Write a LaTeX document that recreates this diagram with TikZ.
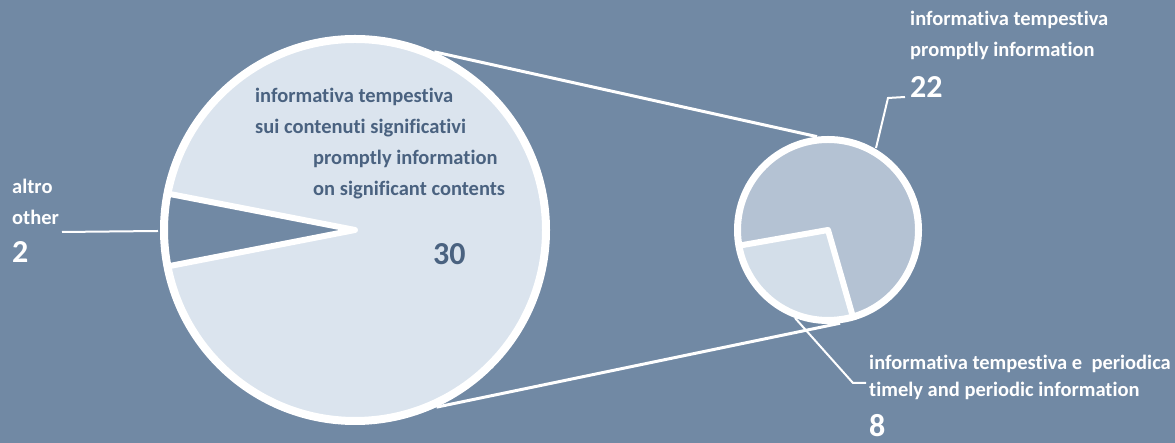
\documentclass[tikz,border=0pt]{standalone}
\usepackage{fontspec}
\setmainfont[Ligatures={NoCommon,NoRare,NoContextual}]{Carlito}
\definecolor{bg}{RGB}{113,137,164}
\definecolor{bigfill}{RGB}{219,228,238}
\definecolor{smallA}{RGB}{180,194,211}
\definecolor{smallB}{RGB}{211,222,233}
\definecolor{txtdark}{RGB}{74,98,128}
\begin{document}
\begin{tikzpicture}[x=1pt,y=1pt,
  lbl/.style={inner sep=0pt, anchor=base west, align=left, font=\bfseries\fontsize{20.5}{31}\selectfont},
  lblb/.style={lbl, font=\bfseries\fontsize{20.5}{27}\selectfont},
  num/.style={inner sep=0pt, anchor=base west, font=\bfseries\fontsize{32}{32}\selectfont},
  ring/.style={draw=white, line width=8pt},
  sep/.style={draw=white, line width=6pt, line join=round},
  link/.style={draw=white, line width=3pt},
  leader/.style={draw=white, line width=2pt}]
\useasboundingbox[fill=bg] (0,0) rectangle (1175,443);
\coordinate (C1) at (355,213);
\coordinate (C2) at (828,213);
% tangent points
\path (C1) ++(66:195) coordinate (t1);
\path (C2) ++(96.7:94) coordinate (t2);
\path (C1) ++(-65.3:195) coordinate (b1);
\path (C2) ++(-82.6:94) coordinate (b2);
\draw[link] (t1) -- (t2);
\draw[link] (b1) -- (b2);
% big pie
\fill[bigfill] (C1) circle (191);
\path (C1) ++(169:191) coordinate (w1);
\path (C1) ++(191:191) coordinate (w2);
\fill[bg] (C1) -- (w1) arc (169:191:191) -- cycle;
\draw[sep] (w1) -- (C1) -- (w2);
\draw[ring] (C1) circle (191);
% small pie
\path (C2) ++(190:90.5) coordinate (s1);
\path (C2) ++(286:90.5) coordinate (s2);
\fill[smallA] (C2) -- (s2) arc (286:550:90.5) -- cycle;
\fill[smallB] (C2) -- (s1) arc (190:286:90.5) -- cycle;
\draw[sep] (s1) -- (C2) -- (s2);
\draw[draw=white, line width=7pt] (C2) circle (90.5);
% leaders
\coordinate (a1) at (62,211);
\coordinate (a2) at (158,212);
\draw[leader] (a1) -- (a2);
\coordinate (p1) at (876,295);
\coordinate (p2) at (888,345);
\coordinate (p3) at (905,346);
\draw[leader] (p1) -- (p2) -- (p3);
\coordinate (q1) at (795,125);
\coordinate (q2) at (853,60);
\coordinate (q3) at (866,60);
\draw[leader] (q1) -- (q2) -- (q3);
% texts
\node[lbl, text=txtdark] (in1) at (255,309) {informativa tempestiva\\sui contenuti significativi};
\node[lbl, text=txtdark] (in2) at (313,247) {promptly information\\on significant contents};
\node[num, text=txtdark] (n30) at (433,178) {30};
\node[lbl, text=white] (alt) at (12,218) {altro\\other};
\node[num, text=white] (n2) at (12,180) {2};
\node[lbl, text=white] (pr) at (910,386) {informativa tempestiva\\promptly information};
\node[num, text=white] (n22) at (910,345) {22};
\node[lblb, text=white] (per) at (869,46) {informativa tempestiva e\ \ periodica\\timely and periodic information};
\node[num, text=white] (n8) at (869,6) {8};
\end{tikzpicture}
\end{document}
